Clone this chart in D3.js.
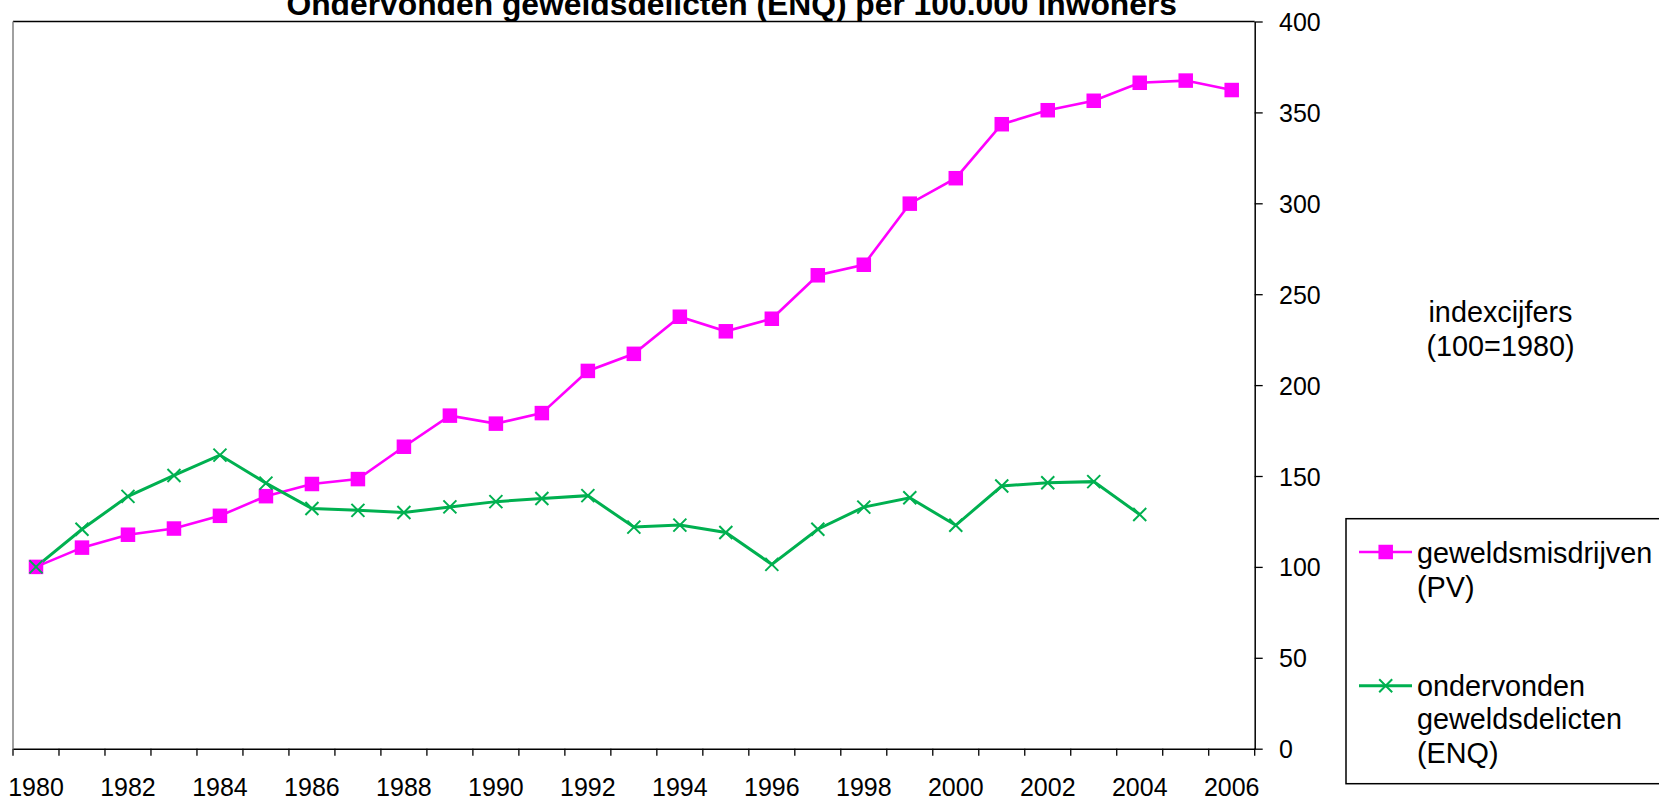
<!DOCTYPE html>
<html>
<head>
<meta charset="utf-8">
<script src="https://cdn.jsdelivr.net/npm/d3@7/dist/d3.min.js"></script>
<style>
  html, body { margin: 0; padding: 0; background: #fff; }
  svg { display: block; font-family: "Liberation Sans", Arial, sans-serif; }
</style>
</head>
<body>
<svg id="chart" width="1659" height="798"></svg>
<script>
const years = d3.range(1980, 2007);
const pvValues = [100, 110.6, 117.7, 121.1, 128.1, 138.9, 145.6, 148.3, 166.1, 183.2, 178.8, 184.6, 207.8, 217.2, 237.6, 229.6, 236.5, 260.4, 266.2, 299.8, 313.8, 343.5, 351.2, 356.4, 366.3, 367.5, 362.3];
const enqValues = [100, 120.7, 138.8, 150.3, 161.5, 146.1, 132.1, 131.1, 129.9, 133.0, 135.9, 137.6, 139.2, 121.9, 123.0, 118.9, 101.4, 120.7, 132.9, 138.0, 122.9, 144.5, 146.3, 146.9, 128.8, null, null];
const yTicks = [0, 50, 100, 150, 200, 250, 300, 350, 400];
const xLabels = years.filter(y => y % 2 === 0);
const titleText = "Ondervonden geweldsdelicten (ENQ) per 100.000 inwoners";
const sideText = ["indexcijfers", "(100=1980)"];
const legendPV = ["geweldsmisdrijven", "(PV)"];
const legendENQ = ["ondervonden", "geweldsdelicten", "(ENQ)"];

const PINK = "#FF00FF", GREEN = "#00B050";
const L = 13, R = 1254.7, T = 21.5, B = 748.7;

const svg = d3.select("#chart");
const x = d3.scaleBand().domain(years).range([L, R]).padding(0);
const y = d3.scaleLinear().domain([0, 400]).range([B, T]);
const bw = x.bandwidth();
const cx = d => x(d) + bw / 2;

// plot frame (top, left)
svg.append("line").attr("x1", L).attr("x2", R).attr("y1", T).attr("y2", T)
  .attr("stroke", "#000").attr("stroke-width", 1.5);
svg.append("line").attr("x1", L).attr("x2", L).attr("y1", T).attr("y2", B)
  .attr("stroke", "#808080").attr("stroke-width", 1.5);

// x axis
const xAxis = d3.axisBottom(x).tickSize(7).tickSizeOuter(0).tickPadding(22)
  .tickFormat(d => d % 2 === 0 ? d : "");
const gx = svg.append("g").attr("transform", `translate(0,${B})`).call(xAxis);
gx.select(".domain").attr("stroke", "#000").attr("stroke-width", 1.5);
gx.selectAll(".tick line").attr("x1", -bw / 2).attr("x2", -bw / 2).attr("stroke", "#000").attr("stroke-width", 1.3);
gx.append("line").attr("x1", R).attr("x2", R).attr("y1", 0).attr("y2", 7).attr("stroke", "#000").attr("stroke-width", 1.3);
gx.selectAll(".tick text").attr("font-size", 25).attr("fill", "#000")
  .attr("font-family", '"Liberation Sans", Arial, sans-serif').attr("dy", null).attr("y", 47);

// y axis (right)
const yAxis = d3.axisRight(y).tickValues(yTicks).tickSize(8).tickSizeOuter(0).tickPadding(16.3);
const gy = svg.append("g").attr("transform", `translate(${R},0)`).call(yAxis);
gy.select(".domain").attr("stroke", "#000").attr("stroke-width", 1.5);
gy.selectAll(".tick line").attr("stroke", "#000").attr("stroke-width", 1.3);
gy.selectAll(".tick text").attr("font-size", 25).attr("fill", "#000")
  .attr("font-family", '"Liberation Sans", Arial, sans-serif').attr("dy", "0.36em");

// lines
const lineGen = d3.line().defined(d => d.v != null).x(d => cx(d.year)).y(d => y(d.v));
const pvData = years.map((yr, i) => ({ year: yr, v: pvValues[i] }));
const enqData = years.map((yr, i) => ({ year: yr, v: enqValues[i] }));

svg.append("path").datum(pvData).attr("d", lineGen).attr("fill", "none")
  .attr("stroke", PINK).attr("stroke-width", 2.6);
svg.append("path").datum(enqData).attr("d", lineGen).attr("fill", "none")
  .attr("stroke", GREEN).attr("stroke-width", 3);

const SQ = 14.5;
svg.append("g").selectAll("rect").data(pvData.filter(d => d.v != null)).join("rect")
  .attr("x", d => cx(d.year) - SQ / 2).attr("y", d => y(d.v) - SQ / 2)
  .attr("width", SQ).attr("height", SQ).attr("fill", PINK);

const XS = 6.5;
const crossPath = (px, py) => `M${px - XS},${py - XS}L${px + XS},${py + XS}M${px - XS},${py + XS}L${px + XS},${py - XS}`;
svg.append("g").selectAll("path").data(enqData.filter(d => d.v != null)).join("path")
  .attr("d", d => crossPath(cx(d.year), y(d.v)))
  .attr("stroke", GREEN).attr("stroke-width", 2).attr("fill", "none");

// title
svg.append("text").attr("x", 731.7).attr("y", 15).attr("text-anchor", "middle")
  .attr("font-size", 31.8).attr("font-weight", "bold").attr("fill", "#000").text(titleText);

// side text
svg.append("g").selectAll("text").data(sideText).join("text")
  .attr("x", 1500.5).attr("y", (d, i) => 321.7 + i * 34.5).attr("text-anchor", "middle")
  .attr("font-size", 28.8).attr("fill", "#000").text(d => d);

// legend
const lg = svg.append("g");
lg.append("rect").attr("x", 1346).attr("y", 518.7).attr("width", 340).attr("height", 265)
  .attr("fill", "#fff").attr("stroke", "#000").attr("stroke-width", 1.5);
lg.append("line").attr("x1", 1359).attr("x2", 1412).attr("y1", 552).attr("y2", 552)
  .attr("stroke", PINK).attr("stroke-width", 2.6);
lg.append("rect").attr("x", 1385.7 - SQ / 2).attr("y", 552 - SQ / 2).attr("width", SQ).attr("height", SQ).attr("fill", PINK);
lg.selectAll("text.pv").data(legendPV).join("text").attr("class", "pv")
  .attr("x", 1417).attr("y", (d, i) => 562.7 + i * 34).attr("font-size", 28.8).attr("fill", "#000").text(d => d);
lg.append("line").attr("x1", 1359).attr("x2", 1412).attr("y1", 685.7).attr("y2", 685.7)
  .attr("stroke", GREEN).attr("stroke-width", 3);
lg.append("path").attr("d", crossPath(1385.7, 685.7)).attr("stroke", GREEN).attr("stroke-width", 2).attr("fill", "none");
lg.selectAll("text.enq").data(legendENQ).join("text").attr("class", "enq")
  .attr("x", 1417).attr("y", (d, i) => 695.5 + i * 33.7).attr("font-size", 28.8).attr("fill", "#000").text(d => d);
</script>
</body>
</html>
